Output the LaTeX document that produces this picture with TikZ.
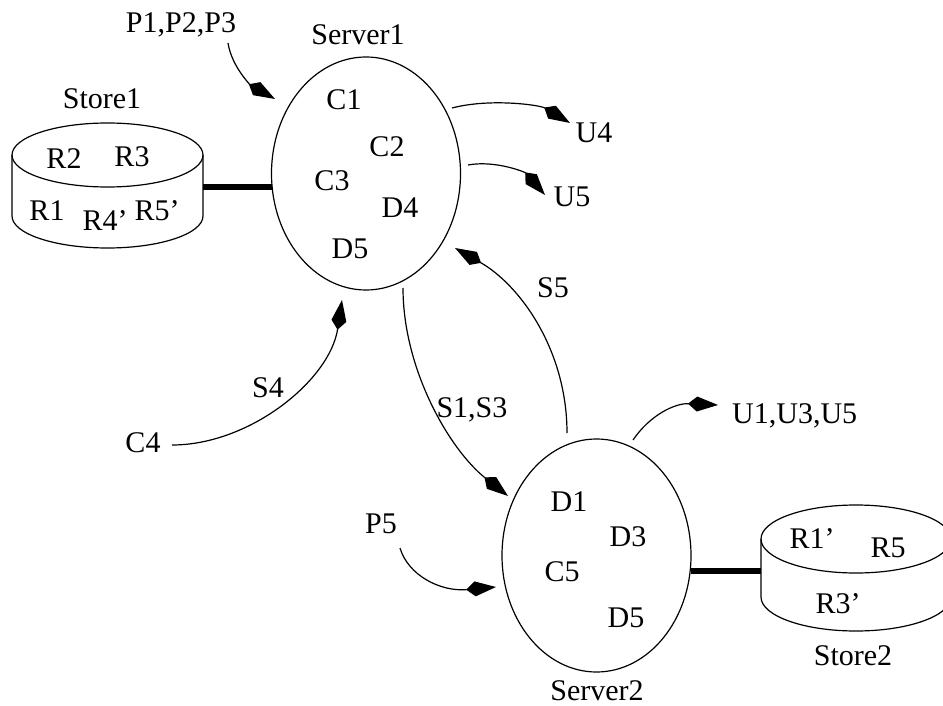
\documentclass[tikz,border=0pt]{standalone}
\usepackage{fontspec}
\setmainfont{Liberation Serif}
\usetikzlibrary{arrows.meta,shapes.geometric}
\tikzset{
  lbl/.style={inner sep=0pt, anchor=base, font=\fontsize{30}{36}\selectfont},
  srv/.style={draw, ellipse, line width=1.2pt, minimum width=189pt, minimum height=233pt, inner sep=0pt},
  flow/.style={line width=1.2pt, -{Kite[length=30pt,width=15pt,inset=9pt]}},
  link/.style={line width=6pt},
  cyl/.style={line width=1.2pt}
}
\begin{document}
\begin{tikzpicture}[x=1pt,y=1pt]
\useasboundingbox (0,0) rectangle (943,-706);

% servers
\node[srv] (server1) at (366,-173.5) {};
\node[srv] (server2) at (596.5,-555.5) {};
\node[lbl] (server1lbl) at (358,-45) {Server1};
\node[lbl] (server2lbl) at (597,-700) {Server2};

% server1 contents
\node[lbl] (c1) at (344,-110) {C1};
\node[lbl] (c2) at (387,-157) {C2};
\node[lbl] (c3) at (332,-190) {C3};
\node[lbl] (d4) at (400,-217) {D4};
\node[lbl] (d5a) at (350,-258) {D5};

% server2 contents
\node[lbl] (d1) at (569,-511) {D1};
\node[lbl] (d3) at (628,-546) {D3};
\node[lbl] (c5) at (562,-581) {C5};
\node[lbl] (d5b) at (626,-627) {D5};

% store1 cylinder
\draw[cyl] (12,-155) -- (12,-216) arc[start angle=180,end angle=360,x radius=95.5,y radius=32] -- (203,-155);
\draw[cyl] (107.5,-155) ellipse [x radius=95.5, y radius=32];
\node[lbl] (store1lbl) at (102,-109) {Store1};
\node[lbl] (r2) at (64,-168) {R2};
\node[lbl] (r3) at (132,-167) {R3};
\node[lbl] (r1) at (47,-220) {R1};
\node[lbl] (r4) at (105,-230) {R4’};
\node[lbl] (r5p) at (157,-220) {R5’};

% store2 cylinder
\draw[cyl] (761,-539) -- (761,-597) arc[start angle=180,end angle=360,x radius=95,y radius=34] -- (951,-539);
\draw[cyl] (856,-539) ellipse [x radius=95, y radius=34];
\node[lbl] (store2lbl) at (853,-665) {Store2};
\node[lbl] (r1p) at (812,-548) {R1’};
\node[lbl] (r5) at (888,-557) {R5};
\node[lbl] (r3p) at (838,-613) {R3’};

% outer labels
\node[lbl] (p123) at (181,-33) {P1,P2,P3};
\node[lbl] (u4) at (594,-143) {U4};
\node[lbl] (u5) at (572,-207) {U5};
\node[lbl] (s5) at (553,-297) {S5};
\node[lbl] (s13) at (472,-417) {S1,S3};
\node[lbl] (s4) at (268,-397) {S4};
\node[lbl] (c4) at (143,-452) {C4};
\node[lbl,anchor=base west] (u135) at (732,-423) {U1,U3,U5};
\node[lbl] (p5) at (381,-533) {P5};

% connector end points
\coordinate (pS) at (228,-43);   \coordinate (pT) at (275,-99);
\coordinate (u4S) at (452,-108); \coordinate (u4T) at (570,-123);
\coordinate (u5S) at (468,-165); \coordinate (u5T) at (545,-195);
\coordinate (s5S) at (567,-433); \coordinate (s5T) at (455,-248);
\coordinate (s13S) at (403,-288); \coordinate (s13T) at (508,-496);
\coordinate (s4S) at (172,-445); \coordinate (s4T) at (342,-300);
\coordinate (u1S) at (633,-440); \coordinate (u1T) at (718,-405);
\coordinate (p5S) at (400,-548); \coordinate (p5T) at (496,-587);
\coordinate (st1) at (203,-187); \coordinate (sv1) at (272,-187);
\coordinate (sv2) at (691,-571); \coordinate (st2) at (761,-571);

% thick links
\draw[link] (st1) -- (sv1);
\draw[link] (sv2) -- (st2);

% flows
\draw[flow] (pS) .. controls (232,-68) and (252,-86) .. (pT);
\draw[flow] (u4S) .. controls (490,-98) and (540,-105) .. (u4T);
\draw[flow] (u5S) .. controls (495,-160) and (525,-172) .. (u5T);
\draw[flow] (s5S) .. controls (567,-350) and (520,-285) .. (s5T);
\draw[flow] (s13S) .. controls (403,-370) and (450,-450) .. (s13T);
\draw[flow] (s4S) .. controls (250,-445) and (330,-380) .. (s4T);
\draw[flow] (u1S) .. controls (650,-415) and (675,-403) .. (u1T);
\draw[flow] (p5S) .. controls (408,-575) and (440,-592) .. (p5T);
\end{tikzpicture}
\end{document}
